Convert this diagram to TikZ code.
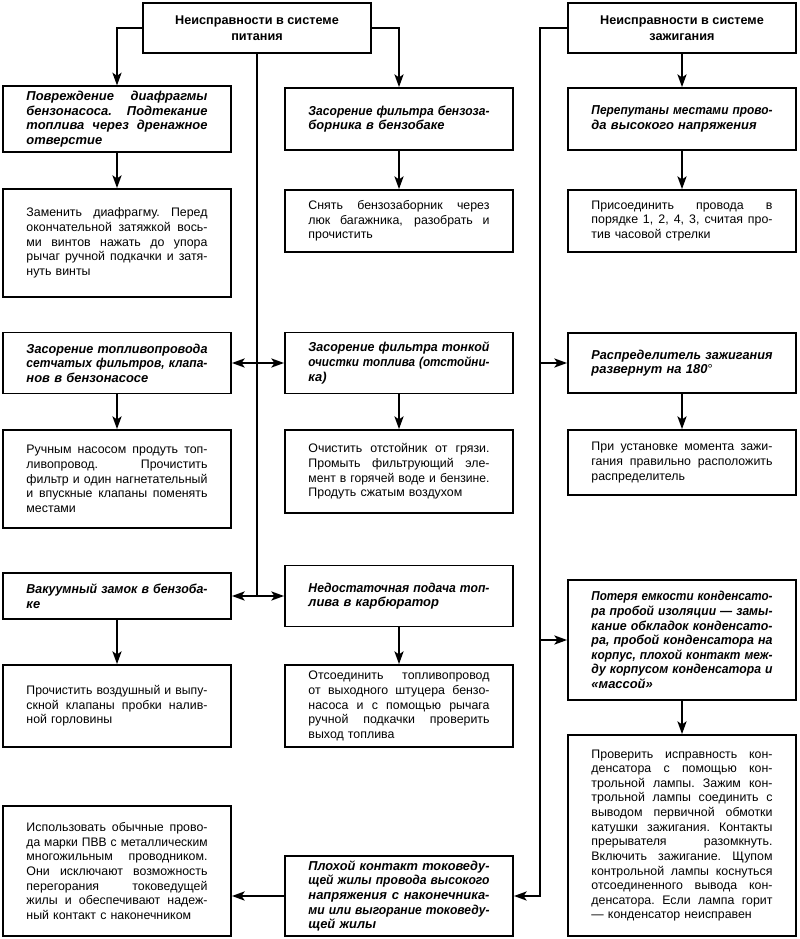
\documentclass[tikz,border=0pt]{standalone}
\usepackage{graphicx}
\usepackage{fontspec}
\setmainfont{Liberation Sans}
\usetikzlibrary{arrows.meta, positioning, calc}

\newlength\boxtw
\setlength\boxtw{4.525cm}
\newbox\jlbox
% one justified line; a line that is too long is narrowed instead
\newcommand\jline[1]{\leavevmode\setbox\jlbox\hbox{#1}%
  \ifdim\wd\jlbox>\boxtw
    \pgfmathsetmacro\jlratio{\the\boxtw/\the\wd\jlbox}%
    \scalebox{\jlratio}[1]{\box\jlbox}%
  \else
    \hbox to\boxtw{\spaceskip=\fontdimen2\font plus 1fil\xspaceskip=\spaceskip #1}%
  \fi}

\begin{document}
\begin{tikzpicture}[
  x=0.025cm, y=-0.025cm,
  header/.style={rectangle, draw, line width=1.3pt, minimum width=5.7cm,
                 minimum height=1.25cm, align=center,
                 font=\bfseries\fontsize{9}{11}\selectfont},
  problem/.style={rectangle, draw, line width=1.3pt, minimum width=5.7cm,
                  text width=\boxtw, align=left,
                  font=\bfseries\itshape\fontsize{9.2}{10.4}\selectfont},
  remedy/.style={problem, font=\fontsize{8.8}{10.4}\selectfont},
  arr/.style={-{Stealth[length=3.2mm, width=2.3mm, inset=0.8mm]}, line width=1.1pt},
  dblarr/.style={{Stealth[length=3.2mm, width=2.3mm, inset=0.8mm]}-{Stealth[length=3.2mm, width=2.3mm, inset=0.8mm]}, line width=1.1pt}
]
  \useasboundingbox (0,0) rectangle (800,939);

  % Headers
  \node[header] (fuel) at (257,28) {Неисправности в системе\\питания};
  \node[header] (ign)  at (682,28) {Неисправности в системе\\зажигания};

  % Left column
  \node[problem, minimum height=1.55cm] (diaph) at (117,119)
        {\jline{Повреждение диафрагмы}\\\jline{бензонасоса. Подтекание}\\\jline{топлива через дренажное}\\отверстие};
  \node[remedy, minimum height=2.7cm] (diaphfix) at (117,243)
        {\jline{Заменить диафрагму. Перед}\\\jline{окончательной затяжкой вось-}\\\jline{ми винтов нажать до упора}\\\jline{рычаг ручной подкачки и затя-}\\нуть винты};
  \node[problem, minimum height=1.525cm] (line) at (117,363)
        {\jline{Засорение топливопровода}\\\jline{сетчатых фильтров, клапа-}\\нов в бензонасосе};
  \node[remedy, minimum height=2.45cm] (linefix) at (117,479)
        {\jline{Ручным насосом продуть топ-}\\\jline{ливопровод. Прочистить}\\\jline{фильтр и один нагнетательный}\\\jline{и впускные клапаны поменять}\\местами};
  \node[problem, minimum height=1.15cm] (vac) at (117,596)
        {\jline{Вакуумный замок в бензоба-}\\ке};
  \node[remedy, minimum height=2.05cm] (vacfix) at (117,706)
        {\jline{Прочистить воздушный и выпу-}\\\jline{скной клапаны пробки налив-}\\ной горловины};
  \node[remedy, minimum height=3.25cm] (wirefix) at (117,871)
        {\jline{Использовать обычные прово-}\\\jline{да марки ПВВ с металлическим}\\\jline{многожильным проводником.}\\\jline{Они исключают возможность}\\\jline{перегорания токоведущей}\\\jline{жилы и обеспечивают надеж-}\\ный контакт с наконечником};

  % Middle column
  \node[problem, minimum height=1.55cm] (intake) at (399,119)
        {\jline{Засорение фильтра бензоза-}\\борника в бензобаке};
  \node[remedy, minimum height=1.55cm] (intakefix) at (399,221)
        {\jline{Снять бензозаборник через}\\\jline{люк багажника, разобрать и}\\прочистить};
  \node[problem, minimum height=1.525cm] (fine) at (399,363)
        {\jline{Засорение фильтра тонкой}\\\jline{очистки топлива (отстойни-}\\ка)};
  \node[remedy, minimum height=2.075cm] (finefix) at (399,471.5)
        {\jline{Очистить отстойник от грязи.}\\\jline{Промыть фильтрующий эле-}\\\jline{мент в горячей воде и бензине.}\\Продуть сжатым воздухом};
  \node[problem, minimum height=1.525cm] (feed) at (399,596)
        {\jline{Недостаточная подача топ-}\\лива в карбюратор};
  \node[remedy, minimum height=2.05cm] (feedfix) at (399,706)
        {\jline{Отсоединить топливопровод}\\\jline{от выходного штуцера бензо-}\\\jline{насоса и с помощью рычага}\\\jline{ручной подкачки проверить}\\выход топлива};
  \node[problem, minimum height=2.0cm] (wire) at (399,896)
        {\jline{Плохой контакт токоведу-}\\\jline{щей жилы провода высокого}\\\jline{напряжения с наконечника-}\\\jline{ми или выгорание токоведу-}\\щей жилы};

  % Right column
  \node[problem, minimum height=1.55cm] (swap) at (682,119)
        {\jline{Перепутаны местами прово-}\\да высокого напряжения};
  \node[remedy, minimum height=1.55cm] (swapfix) at (682,221)
        {\jline{Присоединить провода в}\\\jline{порядке 1, 2, 4, 3, считая про-}\\тив часовой стрелки};
  \node[problem, minimum height=1.5cm] (dist) at (682,363)
        {\jline{Распределитель зажигания}\\развернут на 180{\mdseries\upshape°}};
  \node[remedy, minimum height=1.625cm] (distfix) at (682,462.5)
        {\jline{При установке момента зажи-}\\\jline{гания правильно расположить}\\распределитель};
  \node[problem, minimum height=3.0cm] (cap) at (682,640)
        {\jline{Потеря емкости конденсато-}\\\jline{ра пробой изоляции — замы-}\\\jline{кание обкладок конденсато-}\\\jline{ра, пробой конденсатора на}\\\jline{корпус, плохой контакт меж-}\\\jline{ду корпусом конденсатора и}\\«массой»};
  \node[remedy, minimum height=5.025cm] (capfix) at (682,835.5)
        {\jline{Проверить исправность кон-}\\\jline{денсатора с помощью кон-}\\\jline{трольной лампы. Зажим кон-}\\\jline{трольной лампы соединить с}\\\jline{выводом первичной обмотки}\\\jline{катушки зажигания. Контакты}\\\jline{прерывателя разомкнуть.}\\\jline{Включить зажигание. Щупом}\\\jline{контрольной лампы коснуться}\\\jline{отсоединенного вывода кон-}\\\jline{денсатора. Если лампа горит}\\— конденсатор неисправен};

  % Fuel system trunk
  \coordinate (fueljoin) at (fuel.south |- vac.east);
  \draw[line width=1.1pt] (fuel.south) -- (fueljoin);
  \draw[arr] (fuel.west) -| (diaph.north);
  \draw[arr] (fuel.east) -| (intake.north);
  \draw[dblarr] (line.east) -- (fine.west);
  \draw[dblarr] (vac.east) -- (feed.west);

  % Ignition system trunk
  \coordinate (ignjoin) at (540,28);
  \draw[arr] (ign.west) -- (ignjoin) |- (wire.east);
  \draw[arr] (ignjoin |- dist.west) -- (dist.west);
  \draw[arr] (ignjoin |- cap.west) -- (cap.west);
  \draw[arr] (ign) -- (swap);

  % Problem -> remedy
  \draw[arr] (diaph) -- (diaphfix);
  \draw[arr] (line) -- (linefix);
  \draw[arr] (vac) -- (vacfix);
  \draw[arr] (intake) -- (intakefix);
  \draw[arr] (fine) -- (finefix);
  \draw[arr] (feed) -- (feedfix);
  \draw[arr] (swap) -- (swapfix);
  \draw[arr] (dist) -- (distfix);
  \draw[arr] (cap) -- (capfix);
  \draw[arr] (wire.west) -- (wire.west -| wirefix.east);

\end{tikzpicture}
\end{document}
